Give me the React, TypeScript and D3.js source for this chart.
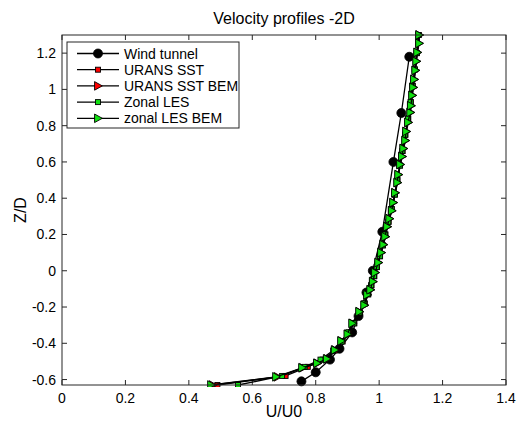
import React from "react";
import * as d3 from "d3";

const xTicks = [0, 0.2, 0.4, 0.6, 0.8, 1, 1.2, 1.4];
const yTicks = [-0.6, -0.4, -0.2, 0, 0.2, 0.4, 0.6, 0.8, 1, 1.2];

const windU = [0.755, 0.8, 0.845, 0.875, 0.915, 0.935, 0.96, 0.98, 1.01, 1.045, 1.07, 1.095];
const windZ = [-0.61, -0.56, -0.49, -0.43, -0.34, -0.25, -0.12, 0.0, 0.215, 0.6, 0.87, 1.18];

const lesBemZ = [-0.63, -0.585, -0.535, -0.51, -0.486, -0.437, -0.387, -0.35, -0.29, -0.226, -0.19, -0.133, -0.105, -0.06, -0.01, 0.045, 0.1, 0.144, 0.188, 0.243, 0.287, 0.331, 0.376, 0.43, 0.486, 0.53, 0.586, 0.63, 0.674, 0.718, 0.768, 0.818, 0.873, 0.91, 0.967, 1.011, 1.055, 1.105, 1.155, 1.204, 1.254, 1.3];
const lesBemU = [0.47, 0.675, 0.757, 0.804, 0.835, 0.86, 0.88, 0.9, 0.915, 0.937, 0.953, 0.962, 0.972, 0.98, 0.987, 0.997, 1.006, 1.013, 1.019, 1.025, 1.032, 1.04, 1.044, 1.05, 1.057, 1.06, 1.066, 1.072, 1.076, 1.082, 1.085, 1.091, 1.098, 1.1, 1.104, 1.107, 1.11, 1.114, 1.117, 1.12, 1.126, 1.126];

const ransBemZ = [-0.63, -0.585, -0.535, -0.51, -0.486, -0.437, -0.387, -0.35, -0.29, -0.226, -0.19, -0.133, -0.105, -0.06, -0.01, 0.045, 0.1, 0.144, 0.188, 0.243, 0.287, 0.331, 0.376, 0.43, 0.486, 0.53, 0.586, 0.63, 0.674, 0.718, 0.768, 0.818, 0.873, 0.91, 0.967, 1.011, 1.055, 1.105, 1.155, 1.204, 1.254, 1.3];
const ransBemU = [0.475, 0.68, 0.76, 0.806, 0.837, 0.862, 0.882, 0.902, 0.917, 0.938, 0.954, 0.963, 0.973, 0.981, 0.988, 0.998, 1.007, 1.014, 1.02, 1.026, 1.033, 1.04, 1.045, 1.051, 1.058, 1.061, 1.067, 1.073, 1.077, 1.083, 1.086, 1.092, 1.099, 1.101, 1.105, 1.108, 1.111, 1.115, 1.118, 1.121, 1.126, 1.127];

const ransZ = [-0.63, -0.58, -0.53, -0.49, -0.44, -0.39, -0.34, -0.29, -0.23, -0.18, -0.13, -0.08, -0.03, 0.02, 0.08, 0.14, 0.2, 0.27, 0.34, 0.42, 0.5, 0.58, 0.66, 0.75, 0.84, 0.93, 1.02, 1.11, 1.2, 1.3];
const ransU = [0.49, 0.705, 0.775, 0.822, 0.86, 0.885, 0.905, 0.922, 0.94, 0.955, 0.966, 0.976, 0.985, 0.993, 1.003, 1.012, 1.02, 1.03, 1.04, 1.05, 1.058, 1.066, 1.074, 1.083, 1.092, 1.1, 1.106, 1.113, 1.119, 1.125];

const lesZ = [-0.63, -0.58, -0.53, -0.49, -0.44, -0.39, -0.34, -0.29, -0.23, -0.18, -0.13, -0.08, -0.03, 0.02, 0.08, 0.14, 0.2, 0.27, 0.34, 0.42, 0.5, 0.58, 0.66, 0.75, 0.84, 0.93, 1.02, 1.11, 1.2, 1.3];
const lesU = [0.555, 0.694, 0.765, 0.815, 0.855, 0.882, 0.902, 0.92, 0.938, 0.953, 0.965, 0.975, 0.984, 0.992, 1.002, 1.011, 1.019, 1.029, 1.039, 1.049, 1.057, 1.065, 1.073, 1.082, 1.091, 1.099, 1.105, 1.112, 1.118, 1.124];

const legendLabels = ["Wind tunnel", "URANS SST", "URANS SST BEM", "Zonal LES", "zonal LES BEM"];

const W = 517, H = 423;
const L = 62, R = 506, T = 35, B = 385;
const font = "'Liberation Sans', Arial, sans-serif";
const axisColor = "#262626";

type Kind = "circle" | "square" | "tri";

function Marker({ kind, x, y, fill }: { kind: Kind; x: number; y: number; fill: string }) {
  if (kind === "circle") return <circle cx={x} cy={y} r={4.5} fill="#000" stroke="#000" strokeWidth={0.8} />;
  if (kind === "square") return <rect x={x - 2.5} y={y - 2.5} width={5} height={5} fill={fill} stroke="#000" strokeWidth={0.9} />;
  const s = 4.3;
  const p = `${x - s * 0.8},${y - s} ${x - s * 0.8},${y + s} ${x + s},${y}`;
  return <polygon points={p} fill={fill} stroke="#000" strokeWidth={0.9} />;
}

export default function App() {
  const x = d3.scaleLinear().domain([0, 1.4]).range([L, R]);
  const y = d3.scaleLinear().domain([-0.63, 1.3]).range([B, T]);
  const line = d3.line<[number, number]>().x((d) => x(d[0])).y((d) => y(d[1]));

  const series: { u: number[]; z: number[]; kind: Kind; fill: string }[] = [
    { u: windU, z: windZ, kind: "circle", fill: "#000" },
    { u: ransU, z: ransZ, kind: "square", fill: "#ff0000" },
    { u: ransBemU, z: ransBemZ, kind: "tri", fill: "#ff0000" },
    { u: lesU, z: lesZ, kind: "square", fill: "#10e010" },
    { u: lesBemU, z: lesBemZ, kind: "tri", fill: "#10e010" },
  ];

  const tl = 5;
  return (
    <svg width={W} height={H} style={{ display: "block", position: "absolute", left: 0, top: 0 }} fontFamily={font}>
      <rect x={0} y={0} width={W} height={H} fill="#fff" />
      <text x={(L + R) / 2} y={24} textAnchor="middle" fontSize={16} fill="#000">Velocity profiles -2D</text>
      <defs>
        <clipPath id="clip"><rect x={L - 6} y={T - 6} width={R - L + 12} height={B - T + 8} /></clipPath>
      </defs>
      {xTicks.map((t) => (
        <g key={"x" + t}>
          <line x1={x(t)} x2={x(t)} y1={B} y2={B - tl} stroke={axisColor} />
          <line x1={x(t)} x2={x(t)} y1={T} y2={T + tl} stroke={axisColor} />
          <text x={x(t)} y={403} textAnchor="middle" fontSize={14} fill="#000">{String(t)}</text>
        </g>
      ))}
      {yTicks.map((t) => (
        <g key={"y" + t}>
          <line x1={L} x2={L + tl} y1={y(t)} y2={y(t)} stroke={axisColor} />
          <line x1={R} x2={R - tl} y1={y(t)} y2={y(t)} stroke={axisColor} />
          <text x={L - 6} y={y(t) + 5} textAnchor="end" fontSize={14} fill="#000">{String(Math.round(t * 10) / 10)}</text>
        </g>
      ))}
      <g clipPath="url(#clip)">
        {series.map((s, i) => {
          const pts = s.u.map((u, j) => [u, s.z[j]] as [number, number]);
          return (
            <g key={i}>
              <path d={line(pts) || ""} fill="none" stroke="#000" strokeWidth={1.3} />
              {pts.map((p, j) => (
                <Marker key={j} kind={s.kind} x={x(p[0])} y={y(p[1])} fill={s.fill} />
              ))}
            </g>
          );
        })}
      </g>
      <rect x={L} y={T} width={R - L} height={B - T} fill="none" stroke={axisColor} strokeWidth={1} />
      <rect x={67} y={42} width={172} height={86} fill="#fff" stroke={axisColor} strokeWidth={1} />
      {legendLabels.map((lab, i) => {
        const ly = 53.5 + i * 16.2;
        const s = series[i];
        return (
          <g key={lab}>
            <line x1={77} x2={119} y1={ly} y2={ly} stroke="#000" strokeWidth={1.3} />
            <Marker kind={s.kind} x={98} y={ly} fill={s.fill} />
            <text x={124} y={ly + 5} fontSize={14} fill="#000">{lab}</text>
          </g>
        );
      })}
      <text x={(L + R) / 2} y={417} textAnchor="middle" fontSize={16} fill="#000">U/U0</text>
      <text transform={`translate(26,${(T + B) / 2}) rotate(-90)`} textAnchor="middle" fontSize={16} fill="#000">Z/D</text>
    </svg>
  );
}
